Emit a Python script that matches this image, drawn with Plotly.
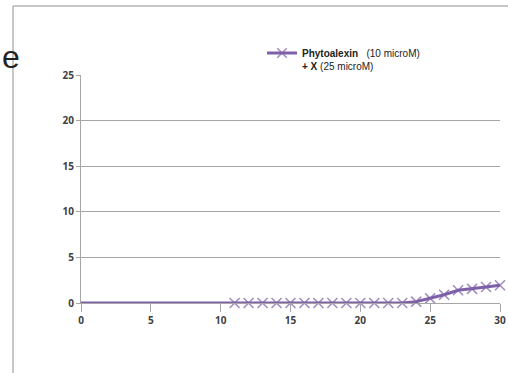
import plotly.graph_objects as go

# time points (only x=0 and x>=11 are plotted)
days = [0, 11, 12, 13, 14, 15, 16, 17, 18, 19, 20, 21, 22, 23, 24, 25, 26, 27, 28, 29, 30]
values = [0, 0, 0, 0, 0, 0, 0, 0, 0, 0, 0, 0, 0, 0, 0.15, 0.5, 0.9, 1.4, 1.55, 1.75, 1.95]
series_name = "<b>Phytoalexin</b>   (10 microM)<br><b>+ X</b> (25 microM)"

x_ticks = [0, 5, 10, 15, 20, 25, 30]
y_ticks = [0, 5, 10, 15, 20, 25]

W, H = 508, 373
L, R, T, B = 81, 8, 75, 70
purple = "#7d60a8"
grid = "#a6a6a6"

fig = go.Figure()
fig.add_trace(go.Scatter(
    x=days, y=values, name=series_name, mode="lines+markers",
    line=dict(color=purple, width=3),
    marker=dict(symbol="x-thin", size=[0] + [10] * (len(days) - 1),
                line=dict(color=purple, width=1.6), color=purple),
    cliponaxis=False,
))


def px_x(p):
    return (p - L) / (W - L - R)


def px_y(p):
    return (H - B - p) / (H - T - B)


# outer box of the pasted image
fig.add_shape(type="line", xref="paper", yref="paper",
              x0=px_x(13), x1=px_x(13), y0=px_y(373), y1=px_y(6),
              line=dict(color="#b4b4b4", width=1.5))
fig.add_shape(type="line", xref="paper", yref="paper",
              x0=px_x(13), x1=px_x(508), y0=px_y(6), y1=px_y(6),
              line=dict(color="#b4b4b4", width=1.5))

# leftover letter of the slide title, cut by the image edge
fig.add_annotation(text="e", xref="paper", yref="paper",
                   x=px_x(0), y=px_y(57), xanchor="left", yanchor="middle",
                   showarrow=False, font=dict(family="Liberation Sans", size=32, color="#222222"))

tick_font = dict(family="Open Sans", size=10, color="#404040", weight="bold")
fig.update_xaxes(range=[0, 30], tickvals=x_ticks, showgrid=False, zeroline=False,
                 showline=True, linecolor=grid, linewidth=1,
                 ticks="outside", ticklen=8, tickcolor=grid, tickfont=tick_font)
fig.update_yaxes(range=[0, 25], tickvals=y_ticks, showgrid=True, gridcolor=grid, gridwidth=1,
                 zeroline=False, showline=True, linecolor=grid, linewidth=1,
                 ticks="outside", ticklen=4, tickcolor=grid, tickfont=tick_font)

fig.update_layout(
    width=W, height=H,
    margin=dict(l=L, r=R, t=T, b=B, autoexpand=False),
    plot_bgcolor="white", paper_bgcolor="white",
    showlegend=True,
    legend=dict(x=px_x(262), y=px_y(40), xanchor="left", yanchor="top",
                bgcolor="rgba(0,0,0,0)", font=dict(family="Liberation Sans", size=10, color="#222222"),
                itemwidth=30, valign="top"),
)

fig.write_html("out.html", config={"displayModeBar": False},
               post_script="document.body.style.margin='0';")
